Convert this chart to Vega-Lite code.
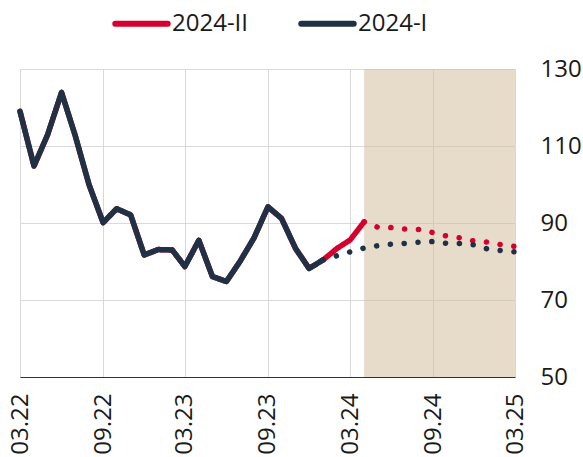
{
  "$schema": "https://vega.github.io/schema/vega-lite/v6.json",
  "width": 495,
  "height": 308,
  "autosize": {"type": "none"},
  "padding": {"left": 20, "top": 69, "right": 68, "bottom": 80},
  "background": "white",
  "config": {
    "font": "Open Sans",
    "view": {"stroke": null},
    "axis": {"labelFont": "Open Sans", "labelFontSize": 24, "labelColor": "#1a1a1a", "gridColor": "#d9d9d9", "gridWidth": 1, "ticks": false, "title": null}
  },
  "data": {"values": [
      {"d": "2022-03-01", "series": "2024-II", "kind": "solid", "v": 119.0},
      {"d": "2022-04-01", "series": "2024-II", "kind": "solid", "v": 104.8},
      {"d": "2022-05-01", "series": "2024-II", "kind": "solid", "v": 112.9},
      {"d": "2022-06-01", "series": "2024-II", "kind": "solid", "v": 123.9},
      {"d": "2022-07-01", "series": "2024-II", "kind": "solid", "v": 112.8},
      {"d": "2022-08-01", "series": "2024-II", "kind": "solid", "v": 99.9},
      {"d": "2022-09-01", "series": "2024-II", "kind": "solid", "v": 90.1},
      {"d": "2022-10-01", "series": "2024-II", "kind": "solid", "v": 93.7},
      {"d": "2022-11-01", "series": "2024-II", "kind": "solid", "v": 92.1},
      {"d": "2022-12-01", "series": "2024-II", "kind": "solid", "v": 81.7},
      {"d": "2023-01-01", "series": "2024-II", "kind": "solid", "v": 83.1},
      {"d": "2023-02-01", "series": "2024-II", "kind": "solid", "v": 83.0},
      {"d": "2023-03-01", "series": "2024-II", "kind": "solid", "v": 78.7},
      {"d": "2023-04-01", "series": "2024-II", "kind": "solid", "v": 85.5},
      {"d": "2023-05-01", "series": "2024-II", "kind": "solid", "v": 76.1},
      {"d": "2023-06-01", "series": "2024-II", "kind": "solid", "v": 74.8},
      {"d": "2023-07-01", "series": "2024-II", "kind": "solid", "v": 80.0},
      {"d": "2023-08-01", "series": "2024-II", "kind": "solid", "v": 86.1},
      {"d": "2023-09-01", "series": "2024-II", "kind": "solid", "v": 94.2},
      {"d": "2023-10-01", "series": "2024-II", "kind": "solid", "v": 91.2},
      {"d": "2023-11-01", "series": "2024-II", "kind": "solid", "v": 83.4},
      {"d": "2023-12-01", "series": "2024-II", "kind": "solid", "v": 78.2},
      {"d": "2024-01-01", "series": "2024-II", "kind": "solid", "v": 80.4},
      {"d": "2024-02-01", "series": "2024-II", "kind": "solid", "v": 83.4},
      {"d": "2024-03-01", "series": "2024-II", "kind": "solid", "v": 85.6},
      {"d": "2024-04-01", "series": "2024-II", "kind": "solid", "v": 90.3},
      {"d": "2024-04-01", "series": "2024-II", "kind": "forecast", "v": 90.3},
      {"d": "2024-05-01", "series": "2024-II", "kind": "forecast", "v": 88.9},
      {"d": "2024-06-01", "series": "2024-II", "kind": "forecast", "v": 88.8},
      {"d": "2024-07-01", "series": "2024-II", "kind": "forecast", "v": 88.4},
      {"d": "2024-08-01", "series": "2024-II", "kind": "forecast", "v": 88.3},
      {"d": "2024-09-01", "series": "2024-II", "kind": "forecast", "v": 87.5},
      {"d": "2024-10-01", "series": "2024-II", "kind": "forecast", "v": 86.6},
      {"d": "2024-11-01", "series": "2024-II", "kind": "forecast", "v": 86.1},
      {"d": "2024-12-01", "series": "2024-II", "kind": "forecast", "v": 85.3},
      {"d": "2025-01-01", "series": "2024-II", "kind": "forecast", "v": 85.0},
      {"d": "2025-02-01", "series": "2024-II", "kind": "forecast", "v": 84.3},
      {"d": "2025-03-01", "series": "2024-II", "kind": "forecast", "v": 83.9},
      {"d": "2022-03-01", "series": "2024-I", "kind": "solid", "v": 119.0},
      {"d": "2022-04-01", "series": "2024-I", "kind": "solid", "v": 104.8},
      {"d": "2022-05-01", "series": "2024-I", "kind": "solid", "v": 112.9},
      {"d": "2022-06-01", "series": "2024-I", "kind": "solid", "v": 123.9},
      {"d": "2022-07-01", "series": "2024-I", "kind": "solid", "v": 112.8},
      {"d": "2022-08-01", "series": "2024-I", "kind": "solid", "v": 99.9},
      {"d": "2022-09-01", "series": "2024-I", "kind": "solid", "v": 90.1},
      {"d": "2022-10-01", "series": "2024-I", "kind": "solid", "v": 93.7},
      {"d": "2022-11-01", "series": "2024-I", "kind": "solid", "v": 92.1},
      {"d": "2022-12-01", "series": "2024-I", "kind": "solid", "v": 81.7},
      {"d": "2023-01-01", "series": "2024-I", "kind": "solid", "v": 83.1},
      {"d": "2023-02-01", "series": "2024-I", "kind": "solid", "v": 83.0},
      {"d": "2023-03-01", "series": "2024-I", "kind": "solid", "v": 78.7},
      {"d": "2023-04-01", "series": "2024-I", "kind": "solid", "v": 85.5},
      {"d": "2023-05-01", "series": "2024-I", "kind": "solid", "v": 76.1},
      {"d": "2023-06-01", "series": "2024-I", "kind": "solid", "v": 74.8},
      {"d": "2023-07-01", "series": "2024-I", "kind": "solid", "v": 80.0},
      {"d": "2023-08-01", "series": "2024-I", "kind": "solid", "v": 86.1},
      {"d": "2023-09-01", "series": "2024-I", "kind": "solid", "v": 94.2},
      {"d": "2023-10-01", "series": "2024-I", "kind": "solid", "v": 91.2},
      {"d": "2023-11-01", "series": "2024-I", "kind": "solid", "v": 83.4},
      {"d": "2023-12-01", "series": "2024-I", "kind": "solid", "v": 78.2},
      {"d": "2024-01-01", "series": "2024-I", "kind": "solid", "v": 80.4},
      {"d": "2024-01-01", "series": "2024-I", "kind": "forecast", "v": 80.4},
      {"d": "2024-02-01", "series": "2024-I", "kind": "forecast", "v": 81.5},
      {"d": "2024-03-01", "series": "2024-I", "kind": "forecast", "v": 82.5},
      {"d": "2024-04-01", "series": "2024-I", "kind": "forecast", "v": 83.5},
      {"d": "2024-05-01", "series": "2024-I", "kind": "forecast", "v": 84.1},
      {"d": "2024-06-01", "series": "2024-I", "kind": "forecast", "v": 84.5},
      {"d": "2024-07-01", "series": "2024-I", "kind": "forecast", "v": 84.7},
      {"d": "2024-08-01", "series": "2024-I", "kind": "forecast", "v": 85.0},
      {"d": "2024-09-01", "series": "2024-I", "kind": "forecast", "v": 85.2},
      {"d": "2024-10-01", "series": "2024-I", "kind": "forecast", "v": 84.7},
      {"d": "2024-11-01", "series": "2024-I", "kind": "forecast", "v": 84.7},
      {"d": "2024-12-01", "series": "2024-I", "kind": "forecast", "v": 84.3},
      {"d": "2025-01-01", "series": "2024-I", "kind": "forecast", "v": 83.2},
      {"d": "2025-02-01", "series": "2024-I", "kind": "forecast", "v": 82.8},
      {"d": "2025-03-01", "series": "2024-I", "kind": "forecast", "v": 82.5}
  ]},
  "encoding": {
    "x": {"field": "d", "type": "temporal",
      "scale": {"type": "utc", "domain": [{"year": 2022, "month": 3, "date": 1, "utc": true}, {"year": 2025, "month": 3, "date": 1, "utc": true}], "nice": false},
      "axis": {"values": [{"year": 2022, "month": 3, "date": 1, "utc": true}, {"year": 2022, "month": 9, "date": 1, "utc": true}, {"year": 2023, "month": 3, "date": 1, "utc": true}, {"year": 2023, "month": 9, "date": 1, "utc": true}, {"year": 2024, "month": 3, "date": 1, "utc": true}, {"year": 2024, "month": 9, "date": 1, "utc": true}, {"year": 2025, "month": 3, "date": 1, "utc": true}],
        "labelExpr": "utcFormat(datum.value, '%m.%y')", "labelAngle": -90, "labelAlign": "right", "labelBaseline": "middle", "labelPadding": 16,
        "grid": true, "domain": true, "domainColor": "#333333", "domainWidth": 1.2, "labelOverlap": false, "labelBound": false, "labelFlush": false}},
    "y": {"field": "v", "type": "quantitative",
      "scale": {"domain": [50, 130], "nice": false, "zero": false},
      "axis": {"orient": "right", "values": [50, 70, 90, 110, 130], "grid": true, "domain": false, "labelPadding": 25, "labelBaseline": "middle", "labelFlush": false, "labelOverlap": false}}
  },
  "layer": [
    {
      "data": {"values": [{"start": "2024-04-01", "end": "2025-03-01", "lo": 50, "hi": 130}]},
      "mark": {"type": "rect", "fill": "#d4bf9e", "opacity": 0.55},
      "encoding": {
        "x": {"field": "start", "type": "temporal"},
        "x2": {"field": "end"},
        "y": {"field": "lo", "type": "quantitative"},
        "y2": {"field": "hi"}
      }
    },
    {
      "transform": [{"filter": "datum.series === '2024-II'"}],
      "mark": {"type": "line", "strokeWidth": 5.5, "strokeCap": "round", "strokeJoin": "round"},
      "encoding": {
        "color": {"field": "series", "type": "nominal",
          "scale": {"domain": ["2024-II", "2024-I"], "range": ["#d6002f", "#1f3145"]},
          "legend": {"title": null, "orient": "none", "legendX": 92, "legendY": -75, "direction": "horizontal",
            "symbolType": "stroke", "symbolSize": 2750, "symbolStrokeWidth": 6, "labelFontSize": 24, "labelColor": "#1a1a1a",
            "labelFont": "Open Sans", "columnPadding": 40, "labelOffset": 1,
            "encode": {"symbols": {"update": {"strokeCap": {"value": "round"}}}}}},
        "strokeDash": {"field": "kind", "type": "nominal",
          "scale": {"domain": ["solid", "forecast"], "range": [[1, 0], [0.1, 13.75]]}, "legend": null}
      }
    },
    {
      "transform": [{"filter": "datum.series === '2024-I'"}],
      "mark": {"type": "line", "strokeWidth": 5.5, "strokeCap": "round", "strokeJoin": "round"},
      "encoding": {
        "color": {"field": "series", "type": "nominal"},
        "strokeDash": {"field": "kind", "type": "nominal"}
      }
    }
  ]
}
